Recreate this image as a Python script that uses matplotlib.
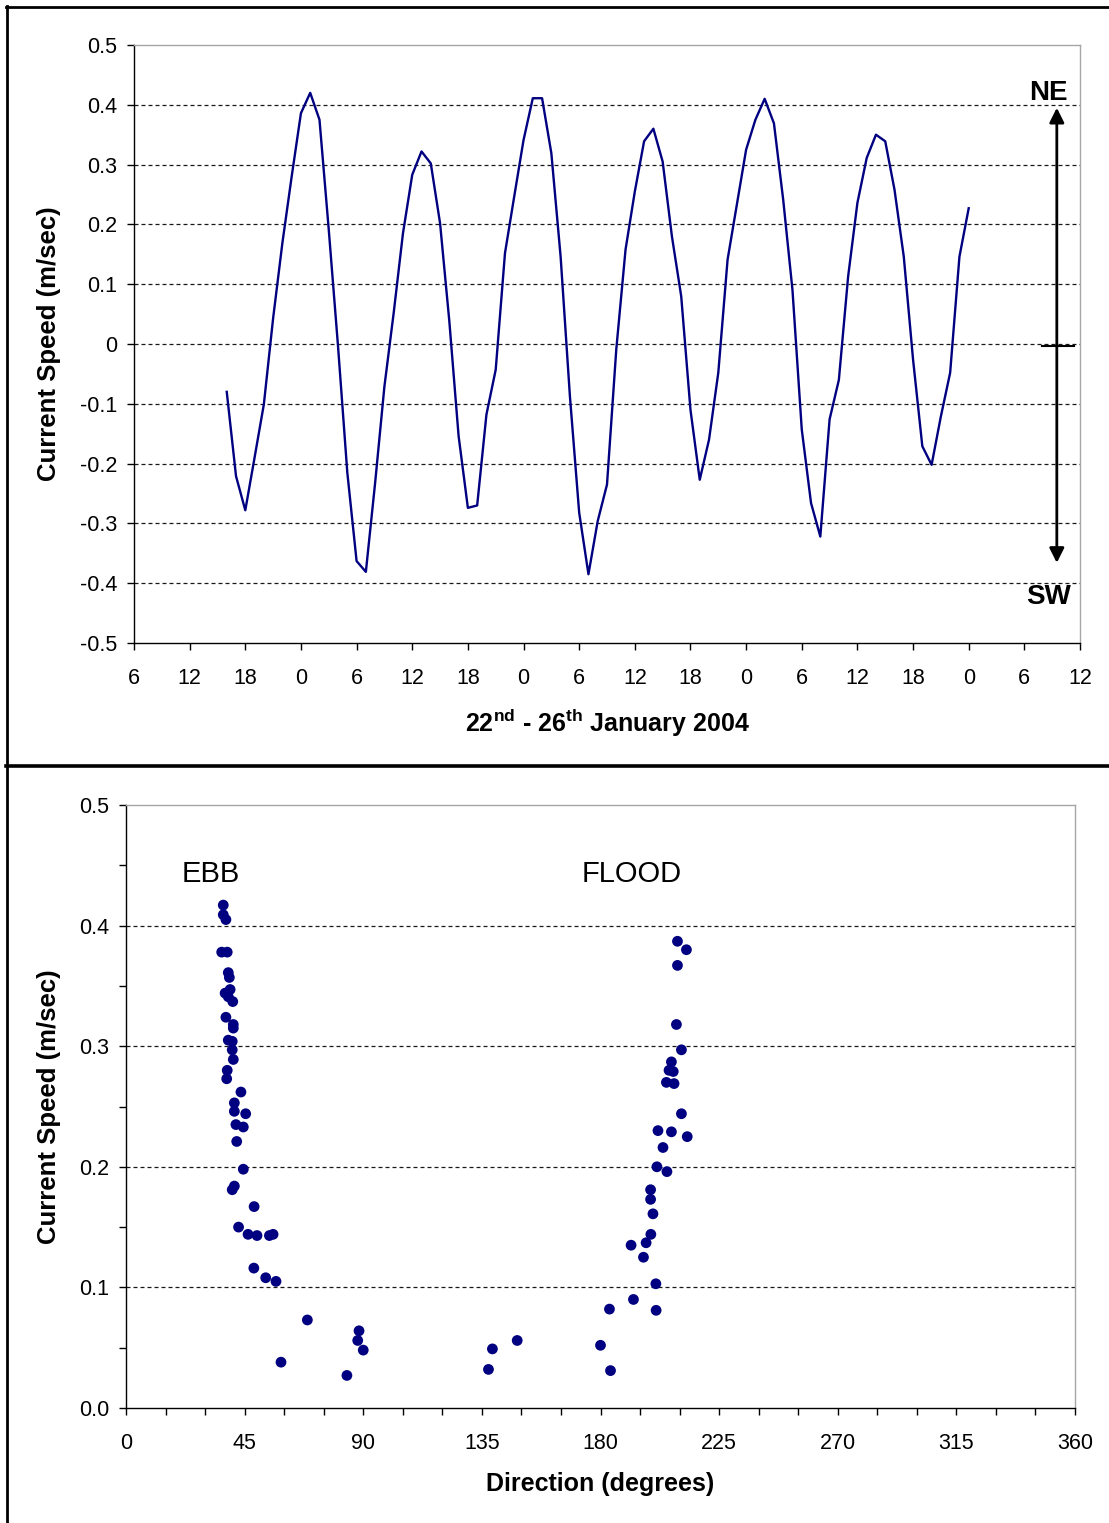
import matplotlib
matplotlib.use('Agg')
import matplotlib.pyplot as plt
from matplotlib.lines import Line2D
from matplotlib.ticker import MultipleLocator

plt.rcParams['font.family'] = ['Liberation Sans', 'DejaVu Sans']
plt.rcParams['mathtext.fontset'] = 'custom'
plt.rcParams['mathtext.rm'] = 'Liberation Sans'
plt.rcParams['mathtext.bf'] = 'Liberation Sans:bold'
plt.rcParams['mathtext.default'] = 'bf'

# ---------------- Top panel data: hourly current speed ----------------
# hours counted from 00:00 on 22 January 2004
hours = list(range(16, 97))
speed = [
    -0.080, -0.221, -0.278, -0.190, -0.101, 0.043, 0.169, 0.280, 0.386, 0.420,
    0.375, 0.191, -0.004, -0.215, -0.363, -0.381, -0.232, -0.071, 0.052, 0.185,
    0.283, 0.322, 0.302, 0.202, 0.038, -0.154, -0.274, -0.270, -0.118, -0.043,
    0.152, 0.247, 0.341, 0.411, 0.411, 0.319, 0.146, -0.087, -0.282, -0.385,
    -0.296, -0.235, -0.009, 0.158, 0.255, 0.339, 0.360, 0.305, 0.180, 0.080,
    -0.110, -0.227, -0.160, -0.048, 0.141, 0.233, 0.325, 0.375, 0.410, 0.369,
    0.241, 0.090, -0.143, -0.266, -0.322, -0.126, -0.060, 0.113, 0.236, 0.311,
    0.350, 0.339, 0.258, 0.146, -0.026, -0.171, -0.202, -0.121, -0.048, 0.146,
    0.227,
]
hour_ticks = list(range(6, 109, 6))
hour_labels = [str(h % 24) for h in hour_ticks]
top_yticks = [-0.5, -0.4, -0.3, -0.2, -0.1, 0, 0.1, 0.2, 0.3, 0.4, 0.5]
top_ylabels = ['-0.5', '-0.4', '-0.3', '-0.2', '-0.1', '0', '0.1', '0.2', '0.3', '0.4', '0.5']
top_grid = [-0.4, -0.3, -0.2, -0.1, 0, 0.1, 0.2, 0.3, 0.4]

# ---------------- Bottom panel data: speed vs direction ----------------
ebb_dir = [36.9, 36.9, 37.9, 36.3, 38.4, 38.8, 39.2, 37.6, 39.5, 38.8, 40.5, 37.9,
           40.7, 40.7, 38.8, 40.3, 40.3, 40.7, 38.4, 38.2, 43.6, 41.1, 41.1, 45.4,
           41.7, 44.5, 42.0, 44.5, 41.1, 40.3, 48.6, 42.7, 46.3, 49.7, 54.4, 55.8,
           48.5, 53.0, 56.9, 68.8, 58.8, 83.8, 88.4, 87.9, 90.0]
ebb_speed = [0.417, 0.409, 0.405, 0.378, 0.378, 0.361, 0.357, 0.344, 0.347, 0.341,
             0.337, 0.324, 0.318, 0.315, 0.305, 0.304, 0.297, 0.289, 0.280, 0.273,
             0.262, 0.253, 0.246, 0.244, 0.235, 0.233, 0.221, 0.198, 0.184, 0.181,
             0.167, 0.150, 0.144, 0.143, 0.143, 0.144, 0.116, 0.108, 0.105, 0.073,
             0.038, 0.027, 0.064, 0.056, 0.048]
flood_dir = [137.5, 139.0, 148.4, 180.0, 183.8, 183.4, 192.5, 201.1, 201.0, 191.6,
             196.3, 197.3, 199.1, 199.9, 199.0, 199.0, 205.2, 201.4, 203.7, 212.9,
             206.9, 201.8, 210.7, 207.9, 205.0, 207.6, 206.0, 206.9, 210.7, 208.8,
             209.2, 212.6, 209.2]
flood_speed = [0.032, 0.049, 0.056, 0.052, 0.031, 0.082, 0.090, 0.081, 0.103, 0.135,
               0.125, 0.137, 0.144, 0.161, 0.173, 0.181, 0.196, 0.200, 0.216, 0.225,
               0.229, 0.230, 0.244, 0.269, 0.270, 0.279, 0.280, 0.287, 0.297, 0.318,
               0.367, 0.380, 0.387]
dir_ticks = [0, 45, 90, 135, 180, 225, 270, 315, 360]
bot_yticks = [0.0, 0.1, 0.2, 0.3, 0.4, 0.5]
bot_ylabels = ['0.0', '0.1', '0.2', '0.3', '0.4', '0.5']
bot_grid = [0.1, 0.2, 0.3, 0.4]

W, H = 1109, 1523
fig = plt.figure(figsize=(W / 100, H / 100), dpi=100)
fig.patch.set_facecolor('white')

NAVY = '#000080'
GRID_KW = dict(color='#1a1a1a', lw=0.9, linestyle=(0, (3.2, 2.4)), zorder=1)
TICK_FS = 15.5


def style_axes(ax):
    for s in ('left', 'bottom'):
        ax.spines[s].set_color('black')
        ax.spines[s].set_linewidth(1.0)
    for s in ('top', 'right'):
        ax.spines[s].set_color('#a6a6a6')
        ax.spines[s].set_linewidth(1.0)


# ---------------- Top axes ----------------
ax1 = fig.add_axes([134 / W, 1 - 643 / H, 946 / W, 598 / H])
style_axes(ax1)
for g in top_grid:
    ax1.axhline(g, **GRID_KW)
ax1.plot(hours, speed, color=NAVY, lw=1.7, zorder=3, solid_joinstyle='round')
ax1.set_xlim(6, 108)
ax1.set_ylim(-0.5, 0.5)
ax1.set_xticks(hour_ticks)
ax1.set_xticklabels(hour_labels, fontsize=TICK_FS)
ax1.set_yticks(top_yticks)
ax1.set_yticklabels(top_ylabels, fontsize=TICK_FS)
ax1.tick_params(axis='x', direction='out', length=5, width=1, pad=13)
ax1.tick_params(axis='y', direction='out', length=5, width=1, pad=7)
ax1.set_ylabel('Current Speed (m/sec)', fontsize=18.5, fontweight='bold', va='center')
ax1.yaxis.set_label_coords((49 - 134) / 946, 0.5)
ax1.set_xlabel(r'$22^{nd}$ - $26^{th}$ January 2004', fontsize=18, fontweight='bold', va='center')
ax1.xaxis.set_label_coords(0.5, (643 - 723) / 598)

# NE / SW direction arrow
ax1.annotate('', xy=(105.5, 0.395), xytext=(105.5, -0.366),
             arrowprops=dict(arrowstyle='<|-|>', color='black', lw=2,
                             mutation_scale=22, shrinkA=0, shrinkB=0), zorder=4)
ax1.plot([103.9, 107.4], [-0.004, -0.004], color='black', lw=1.5, zorder=4)
ax1.text(104.6, 0.420, 'NE', fontsize=20, fontweight='bold', ha='center', va='center')
ax1.text(104.6, -0.423, 'SW', fontsize=20, fontweight='bold', ha='center', va='center')

# ---------------- Bottom axes ----------------
ax2 = fig.add_axes([126 / W, 1 - 1408 / H, 949 / W, 603 / H])
style_axes(ax2)
for g in bot_grid:
    ax2.axhline(g, **GRID_KW)
ax2.scatter(ebb_dir, ebb_speed, s=60, color=NAVY, edgecolors='none', zorder=3)
ax2.scatter(flood_dir, flood_speed, s=60, color=NAVY, edgecolors='none', zorder=3)
ax2.set_xlim(0, 360)
ax2.set_ylim(0, 0.5)
ax2.set_xticks(dir_ticks)
ax2.set_xticklabels([str(d) for d in dir_ticks], fontsize=TICK_FS)
ax2.xaxis.set_minor_locator(MultipleLocator(15))
ax2.set_yticks(bot_yticks)
ax2.set_yticklabels(bot_ylabels, fontsize=TICK_FS)
ax2.yaxis.set_minor_locator(MultipleLocator(0.05))
ax2.tick_params(axis='x', which='both', direction='out', length=5, width=1, pad=13)
ax2.tick_params(axis='y', which='both', direction='out', length=5, width=1, pad=7)
ax2.set_ylabel('Current Speed (m/sec)', fontsize=18.5, fontweight='bold', va='center')
ax2.yaxis.set_label_coords((49 - 126) / 949, 0.5)
ax2.set_xlabel('Direction (degrees)', fontsize=18, fontweight='bold', va='center')
ax2.xaxis.set_label_coords(0.5, (1408 - 1484) / 603)
ax2.text(32.2, 0.443, 'EBB', fontsize=21, ha='center', va='center')
ax2.text(192.0, 0.443, 'FLOOD', fontsize=21, ha='center', va='center')

# ---------------- Panel frames ----------------
def fx(px):
    return px / W


def fy(py):
    return 1 - py / H


fig.add_artist(Line2D([fx(7), fx(7)], [fy(6), fy(H)], color='black', lw=2.0))
fig.add_artist(Line2D([fx(6), fx(W)], [fy(7), fy(7)], color='black', lw=2.0))
fig.add_artist(Line2D([fx(6), fx(W)], [fy(766), fy(766)], color='black', lw=2.6))

fig.savefig('out.png', dpi=100, facecolor='white')
